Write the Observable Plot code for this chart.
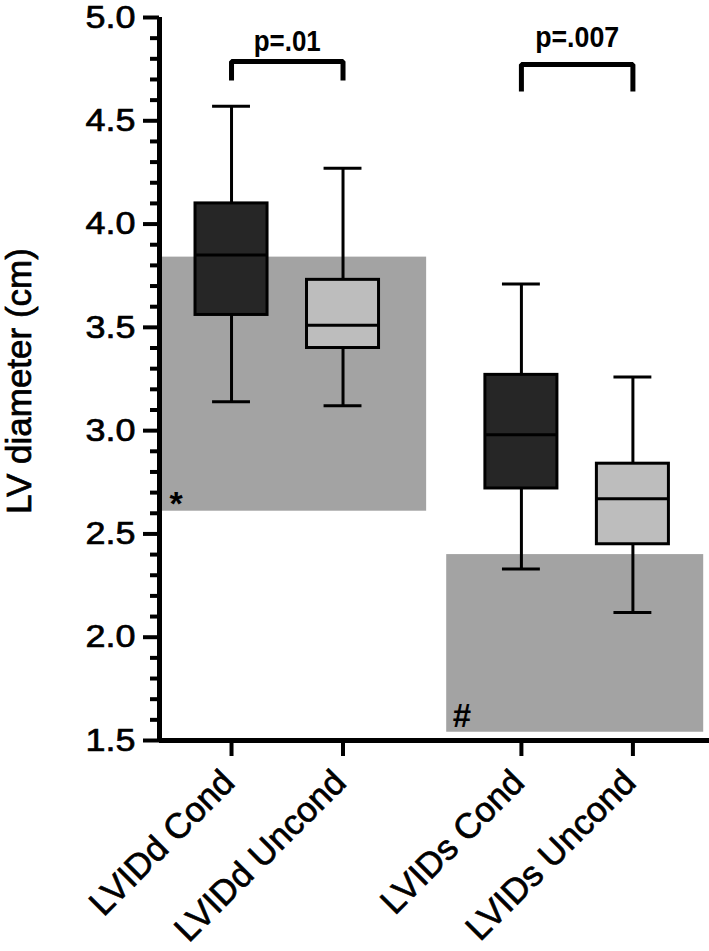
<!DOCTYPE html>
<html><head><meta charset="utf-8">
<script src="https://cdn.jsdelivr.net/npm/d3@7"></script>
<script src="https://cdn.jsdelivr.net/npm/@observablehq/plot@0.6"></script>
<style>
  html,body{margin:0;padding:0;background:#fff}
  svg{display:block}
</style>
</head><body><div id="chart"></div>
<script>
// ---- data ----
const categories = ["LVIDd Cond", "LVIDd Uncond", "LVIDs Cond", "LVIDs Uncond"];
const measure = ["LVIDd", "LVIDd", "LVIDs", "LVIDs"];
const condition = ["Cond", "Uncond", "Cond", "Uncond"];
const whiskerLow = [3.14, 3.12, 2.33, 2.12];
const q1 = [3.56, 3.40, 2.72, 2.45];
const median = [3.85, 3.51, 2.98, 2.67];
const q3 = [4.10, 3.73, 3.27, 2.84];
const whiskerHigh = [4.57, 4.27, 3.71, 3.26];
// reference (shaded) ranges per measure
const refMeasure = ["LVIDd", "LVIDs"];
const refLow = [2.61, 1.54];
const refHigh = [3.84, 2.40];
const refSymbol = ["*", "#"];
// significance brackets
const bracketMeasure = ["LVIDd", "LVIDs"];
const pLabels = ["p=.01", "p=.007"];
const bracketTop = [4.787, 4.773];
const bracketBottom = [4.695, 4.642];
const pLabelY = [4.84, 4.855];
// axis ticks
const yMajorTicks = [1.5, 2.0, 2.5, 3.0, 3.5, 4.0, 4.5, 5.0];
const yMinorTicks = [1.6,1.7,1.8,1.9,2.1,2.2,2.3,2.4,2.6,2.7,2.8,2.9,3.1,3.2,3.3,3.4,3.6,3.7,3.8,3.9,4.1,4.2,4.3,4.4,4.6,4.7,4.8,4.9];

// ---- layout helpers ----
const GAP = 2.6;
const groups = ["LVIDd", "LVIDs"];
const pos = (m, c) => 1 + (c === "Uncond" ? 1 : 0) + groups.indexOf(m) * GAP;
const xMin = 0.354, xMax = 5.287;
const boxHalf = 0.323, capHalf = 0.17;

const boxes = categories.map((name, i) => ({
  name, x: pos(measure[i], condition[i]), condition: condition[i],
  lo: whiskerLow[i], q1: q1[i], med: median[i], q3: q3[i], hi: whiskerHigh[i]
}));
const refs = refMeasure.map((m, i) => {
  const a = pos(m, "Cond"), b = pos(m, "Uncond");
  return {
    x1: i === 0 ? xMin : a - 0.67,
    x2: i === 0 ? b + 0.75 : b + 0.635,
    y1: refLow[i], y2: refHigh[i], sym: refSymbol[i]
  };
});
const bracketPts = bracketMeasure.flatMap((m, i) => {
  const a = pos(m, "Cond"), b = pos(m, "Uncond");
  return [
    {k: i, x: a, y: bracketBottom[i]}, {k: i, x: a, y: bracketTop[i]},
    {k: i, x: b, y: bracketTop[i]}, {k: i, x: b, y: bracketBottom[i]}
  ];
});
const pText = bracketMeasure.map((m, i) => ({
  x: (pos(m, "Cond") + pos(m, "Uncond")) / 2, y: pLabelY[i], text: pLabels[i]
}));
const tickPositions = boxes.map(d => d.x);

const FONT = "'Liberation Sans', Arial, Helvetica, sans-serif";

const chart = Plot.plot({
  width: 709,
  height: 951,
  marginLeft: 159,
  marginRight: 0,
  marginTop: 17,
  marginBottom: 211,
  style: {fontFamily: FONT, background: "#fff", color: "#000", overflow: "visible"},
  x: {domain: [xMin, xMax], axis: null},
  y: {domain: [1.5, 5.0], axis: null},
  color: {type: "ordinal", domain: ["Cond", "Uncond"], range: ["#262626", "#bdbdbd"]},
  marks: [
    // shaded reference ranges
    Plot.rect(refs, {x1: "x1", x2: "x2", y1: "y1", y2: "y2", fill: "#a3a3a3"}),
    // whiskers
    Plot.ruleX(boxes, {x: "x", y1: "lo", y2: "hi", stroke: "#000", strokeWidth: 3}),
    Plot.ruleY(boxes, {y: "lo", x1: d => d.x - capHalf, x2: d => d.x + capHalf, stroke: "#000", strokeWidth: 3}),
    Plot.ruleY(boxes, {y: "hi", x1: d => d.x - capHalf, x2: d => d.x + capHalf, stroke: "#000", strokeWidth: 3}),
    // boxes
    Plot.rect(boxes, {x1: d => d.x - boxHalf, x2: d => d.x + boxHalf, y1: "q1", y2: "q3", fill: "condition", stroke: "#000", strokeWidth: 3}),
    Plot.ruleY(boxes, {y: "med", x1: d => d.x - boxHalf, x2: d => d.x + boxHalf, stroke: "#000", strokeWidth: 3}),
    // symbols in shaded ranges
    Plot.text(refs.slice(0,1), {x: "x1", y: "y1", text: "sym", textAnchor: "start", lineAnchor: "bottom", dx: 10, dy: 4, fontSize: 34, fontWeight: "bold"}),
    Plot.text(refs.slice(1), {x: "x1", y: "y1", text: "sym", textAnchor: "start", lineAnchor: "bottom", dx: 6, dy: -5, fontSize: 33, fontWeight: "bold"}),
    // axes
    Plot.axisY({ticks: yMinorTicks, tickSize: 9, tickFormat: () => "", strokeWidth: 4, label: null}),
    Plot.axisY({ticks: yMajorTicks, tickSize: 16, tickPadding: 8, tickFormat: d3.format(".1f"), strokeWidth: 4, fontSize: 32, label: null}),
    Plot.axisX({ticks: tickPositions, tickSize: 16, tickFormat: () => "", strokeWidth: 4, label: null}),
    Plot.ruleX([xMin], {y1: 1.5, y2: 5.0, stroke: "#000", strokeWidth: 5}),
    Plot.ruleY([1.5], {x1: xMin, x2: xMax, stroke: "#000", strokeWidth: 5}),
    // category labels
    Plot.text(boxes, {x: "x", y: () => 1.5, text: "name", rotate: -45, textAnchor: "end", lineAnchor: "middle", dx: -3, dy: 36, fontSize: 35}),
    // y-axis title
    Plot.text(["LV diameter (cm)"], {frameAnchor: "left", text: d => d, rotate: -90, textAnchor: "middle", lineAnchor: "top", dx: -153, dy: 2, fontSize: 35}),
    // significance brackets
    Plot.line(bracketPts, {x: "x", y: "y", z: "k", stroke: "#000", strokeWidth: 5, strokeLinejoin: "miter", strokeLinecap: "butt"}),
    Plot.text(pText, {x: "x", y: "y", text: "text", textAnchor: "middle", lineAnchor: "bottom", fontSize: 29, fontWeight: "bold"})
  ]
});

document.getElementById("chart").appendChild(chart);

// match the heavier, wider tick numerals and narrower p-value text of the original figure
const sel = d3.select(chart);
sel.selectAll('g[aria-label="y-axis tick label"] text')
  .attr("textLength", 50).attr("lengthAdjust", "spacingAndGlyphs");
sel.selectAll("text").each(function() {
  const t = this.textContent, s = d3.select(this);
  if (t === "p=.01") s.attr("textLength", 67).attr("lengthAdjust", "spacingAndGlyphs");
  else if (t === "p=.007") s.attr("textLength", 84).attr("lengthAdjust", "spacingAndGlyphs");
  else if (t !== "*" && t !== "#") s.style("stroke", "#000").style("stroke-width", "0.7px");
});
</script>
</body></html>
